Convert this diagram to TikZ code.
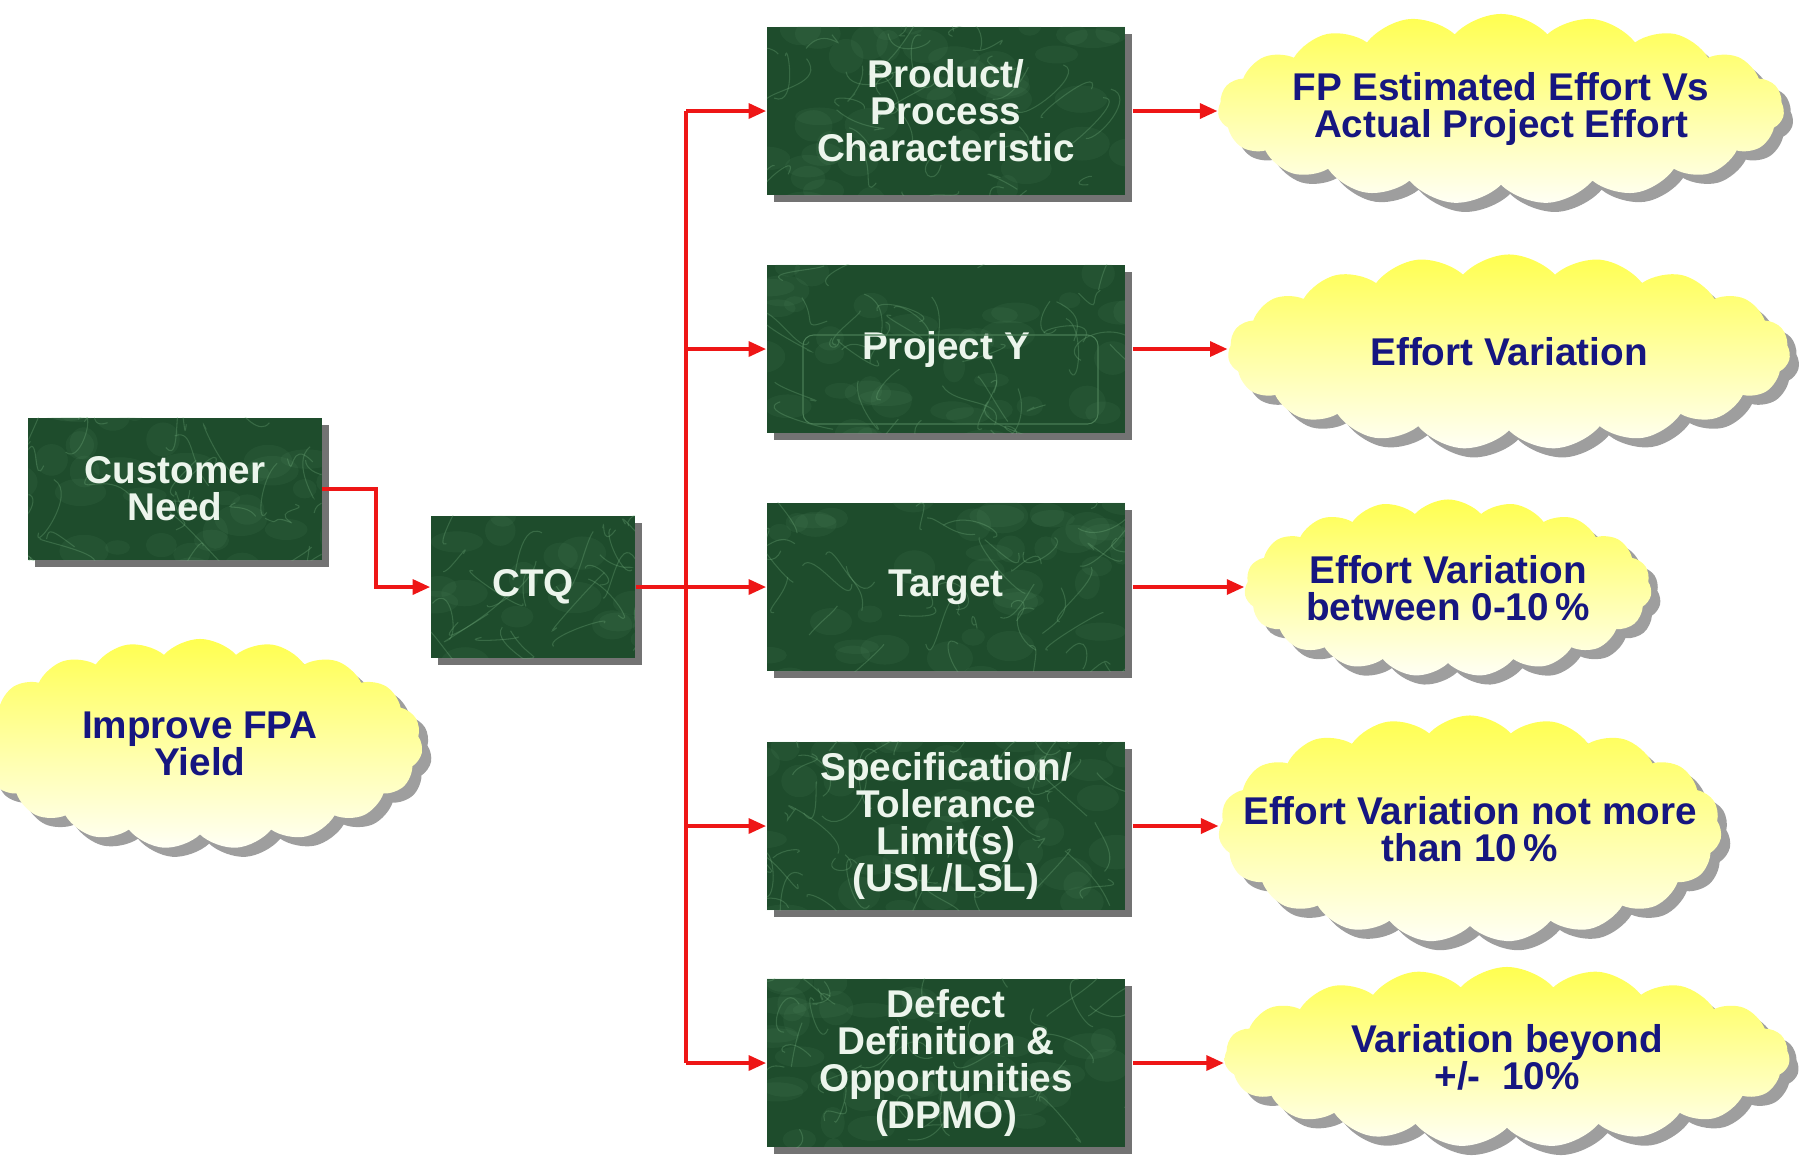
\documentclass[tikz,border=0pt]{standalone}
\usepackage{fontspec}
\setmainfont{Liberation Sans}
\usetikzlibrary{shapes.symbols,shadows,arrows.meta}
\definecolor{marble}{RGB}{30,76,44}
\definecolor{marblelight}{RGB}{125,185,135}
\definecolor{boxtext}{RGB}{236,245,236}
\definecolor{cloudtext}{RGB}{22,22,128}
\definecolor{cloudtop}{RGB}{255,255,80}
\definecolor{cloudmid}{RGB}{255,255,185}
\definecolor{cloudbot}{RGB}{255,255,245}
\definecolor{arrowred}{RGB}{238,22,22}
\tikzset{
  greenbox/.style={rectangle,fill=marble,text=boxtext,align=center,inner sep=0pt,
    font=\bfseries\fontsize{11}{10.5}\selectfont,
    drop shadow={shadow xshift=2pt,shadow yshift=-2pt,fill=black!55,opacity=1},
    path picture={
      \foreach \i in {1,...,40}
        \fill[marblelight,opacity=.07] ([shift={(rand*54pt,rand*27pt)}]path picture bounding box.center)
          ellipse ({3pt+5pt*rnd} and {2pt+3pt*rnd});
      \foreach \i in {1,...,45}
        \draw[marblelight,opacity=.28,line width=.3pt]
          ([shift={(rand*55pt,rand*28pt)}]path picture bounding box.center)
          .. controls +(rand*8pt,rand*8pt) and +(rand*8pt,rand*8pt) .. +(rand*16pt,rand*16pt);
    }},
  needbox/.style={greenbox,minimum width=2.93cm,minimum height=1.42cm},
  rightbox/.style={greenbox,minimum width=3.58cm,minimum height=1.68cm},
  cloudlabel/.style={text=cloudtext,align=center,font=\bfseries\fontsize{11}{10.5}\selectfont},
  yellowcloud/.style={cloud,cloud puffs=19,cloud puff arc=95,cloud ignores aspect,draw=none,inner sep=0pt,
    top color=cloudtop,middle color=cloudmid,bottom color=cloudbot,
    drop shadow={shadow xshift=2.6pt,shadow yshift=-2.6pt,fill=black!38,opacity=1},
    label={[cloudlabel]center:#1}},
  redline/.style={draw=arrowred,line width=1.1pt},
  redarrow/.style={redline,-{Triangle[length=5pt,width=4.2pt]}},
  innerframe/.style={draw=marblelight!45!marble,line width=.3pt,rounded corners=3pt}
}
\begin{document}
\begin{tikzpicture}[x=0.01cm,y=-0.01cm]
\pgfmathsetseed{7}
\useasboundingbox (0,0) rectangle (1799,1156);

% left side
\node[needbox] (need) at (175,489) {Customer\\Need};
\node[greenbox,minimum width=2.04cm,minimum height=1.42cm] (ctq) at (533,587) {CTQ};
\node[yellowcloud={Improve FPA\\Yield},minimum width=4.45cm,minimum height=2.1cm] (fpa) at (200,744) {};

% right column
\node[rightbox] (prod) at (946,111) {Product/\\Process\\Characteristic};
\node[rightbox] (projy) at (946,349) {Project Y};
\node[rightbox] (target) at (946,587) {Target};
\node[rightbox] (spec) at (946,826) {Specification/\\Tolerance\\Limit(s)\\(USL/LSL)};
\node[rightbox] (defect) at (946,1063) {Defect\\Definition \&\\Opportunities\\(DPMO)};
\draw[innerframe] ([shift={(-143,-14)}]projy.center) rectangle ([shift={(152,75)}]projy.center);

% clouds
\node[yellowcloud={FP Estimated Effort Vs\\Actual Project Effort},minimum width=5.66cm,minimum height=1.9cm] (fp) at (1501,109) {};
\node[yellowcloud={Effort Variation},minimum width=5.62cm,minimum height=1.95cm] (effvar) at (1509,352) {};
\node[yellowcloud={Effort Variation\\between 0-10\,\%},minimum width=4.07cm,minimum height=1.77cm] (between) at (1448,588) {};
\node[yellowcloud={Effort Variation not more\\than 10\,\%},minimum width=5.03cm,minimum height=2.27cm] (notmore) at (1470,829) {};
\node[yellowcloud={Variation beyond\\+/-\ \ 10\%},minimum width=5.65cm,minimum height=1.8cm] (beyond) at (1507,1057) {};

% connectors
\coordinate (trunk) at (686,0);
\draw[redarrow] (need.east) -- ++(54,0) |- (ctq.west);
\draw[redline] (ctq.east) -- (ctq.east -| trunk);
\draw[redline] (prod.west -| trunk) -- (defect.west -| trunk);
\foreach \b in {prod,projy,target,spec,defect}
  \draw[redarrow] (\b.west -| trunk) -- (\b.west);
\foreach \b/\c in {prod/fp,projy/effvar,target/between,spec/notmore,defect/beyond}
  \draw[redarrow] ([xshift=2pt]\b.east) -- (\b.east -| \c.west);
\end{tikzpicture}
\end{document}
